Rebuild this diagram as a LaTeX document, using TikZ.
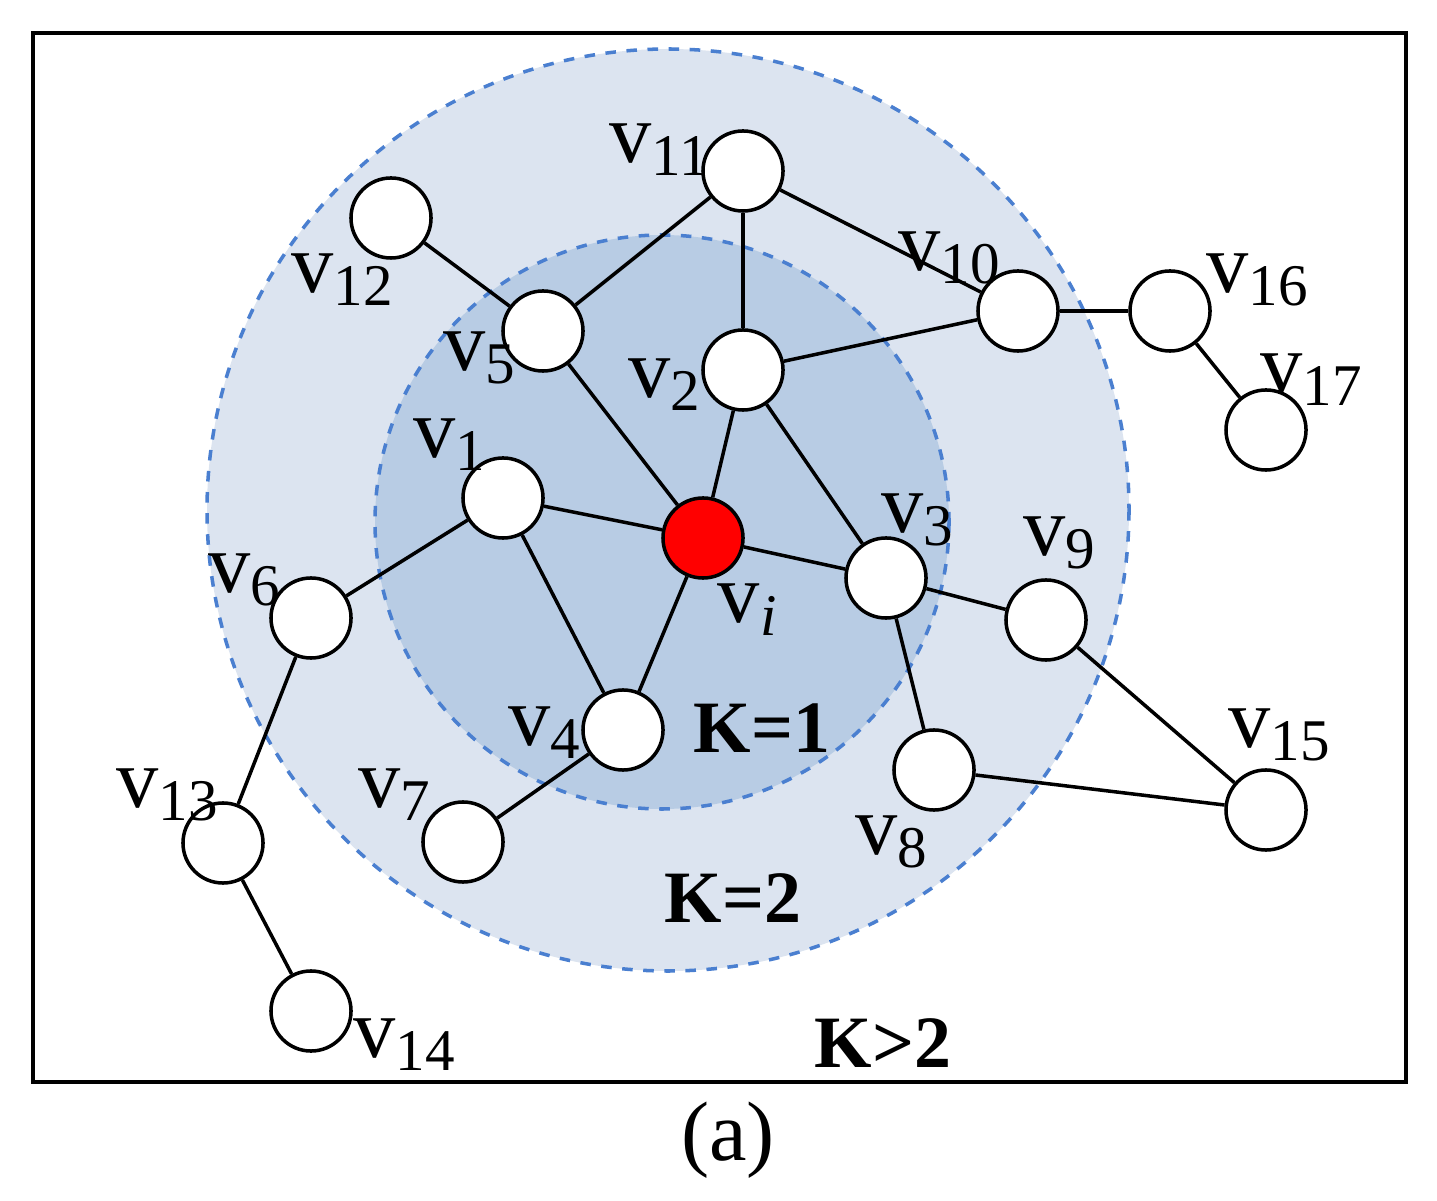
\documentclass[tikz,border=0pt]{standalone}
\usepackage{fontspec}
\setmainfont{Liberation Serif}
\begin{document}
\begin{tikzpicture}[x=0.01cm,y=-0.01cm,
  vert/.style={circle,draw,line width=1pt,fill=white,minimum size=0.8cm,inner sep=0pt},
  lab/.style={font=\fontsize{24}{26}\selectfont,inner sep=0pt},
  klab/.style={font=\fontsize{21}{24}\selectfont\bfseries,inner sep=0pt},
  edge/.style={line width=1pt}]
\useasboundingbox (0,0) rectangle (1437,1201);
\draw[line width=1.2pt] (33,33) rectangle (1406,1082);
\fill[fill={rgb,255:red,220;green,228;blue,240}] (668,510) circle[radius=461];
\draw[dashed,line width=1pt,color={rgb,255:red,74;green,127;blue,208}] (668,510) circle[radius=461];
\fill[fill={rgb,255:red,184;green,204;blue,228}] (662,522) circle[radius=287];
\draw[dashed,line width=1pt,color={rgb,255:red,74;green,127;blue,208}] (662,522) circle[radius=287];
\node[vert,fill=red] (vi) at (703,538) {};
\node[vert] (v1) at (503,498) {};
\node[vert] (v2) at (743,370) {};
\node[vert] (v3) at (886,578) {};
\node[vert] (v4) at (623,730) {};
\node[vert] (v5) at (543,331) {};
\node[vert] (v6) at (311,618) {};
\node[vert] (v7) at (463,842) {};
\node[vert] (v8) at (934,770) {};
\node[vert] (v9) at (1046,620) {};
\node[vert] (v10) at (1018,311) {};
\node[vert] (v11) at (743,171) {};
\node[vert] (v12) at (391,218) {};
\node[vert] (v13) at (223,843) {};
\node[vert] (v14) at (311,1011) {};
\node[vert] (v15) at (1266,810) {};
\node[vert] (v16) at (1170,311) {};
\node[vert] (v17) at (1266,430) {};
\begin{scope}[on background layer/.try]
\end{scope}
\foreach \a/\b in {v12/v5,v5/v11,v11/v2,v11/v10,v10/v16,v16/v17,v10/v2,v5/vi,v2/vi,v2/v3,v1/vi,v1/v6,v1/v4,vi/v4,vi/v3,v3/v9,v3/v8,v9/v15,v8/v15,v4/v7,v6/v13,v13/v14}
  \draw[edge] (\a) -- (\b);
\foreach \a/\b in {v1/vi,v2/v3,vi/v3,vi/v4,v1/v4,v5/vi,v2/vi,v3/v8,v3/v9,v10/v2,v11/v2,v5/v11,v11/v10,v12/v5,v1/v6,v4/v7,v8/v15,v9/v15,v6/v13,v13/v14,v10/v16,v16/v17}{}
\node[lab] (l11) at (660,150) {v\textsubscript{11}};
\node[lab] (l12) at (343,280) {v\textsubscript{12}};
\node[lab] (l10) at (950,258) {v\textsubscript{10}};
\node[lab] (l16) at (1258,280) {v\textsubscript{16}};
\node[lab] (l17) at (1312,380) {v\textsubscript{17}};
\node[lab] (l5) at (480,358) {v\textsubscript{5}};
\node[lab] (l2) at (665,385) {v\textsubscript{2}};
\node[lab] (l1) at (450,445) {v\textsubscript{1}};
\node[lab] (l3) at (918,520) {v\textsubscript{3}};
\node[lab] (l9) at (1060,543) {v\textsubscript{9}};
\node[lab] (l6) at (245,580) {v\textsubscript{6}};
\node[lab] (lvi) at (748,610) {v\textsubscript{\textit{i}}};
\node[lab] (l4) at (545,733) {v\textsubscript{4}};
\node[lab] (l7) at (395,795) {v\textsubscript{7}};
\node[lab] (l8) at (892,842) {v\textsubscript{8}};
\node[lab] (l15) at (1280,735) {v\textsubscript{15}};
\node[lab] (l13) at (168,795) {v\textsubscript{13}};
\node[lab] (l14) at (405,1045) {v\textsubscript{14}};
\node[klab] (k1) at (762,728) {K=1};
\node[klab] (k2) at (733,898) {K=2};
\node[klab] (k3) at (883,1043) {K>2};
\node[font=\fontsize{24}{26}\selectfont] (cap) at (728,1140) {(a)};
\end{tikzpicture}
\end{document}
